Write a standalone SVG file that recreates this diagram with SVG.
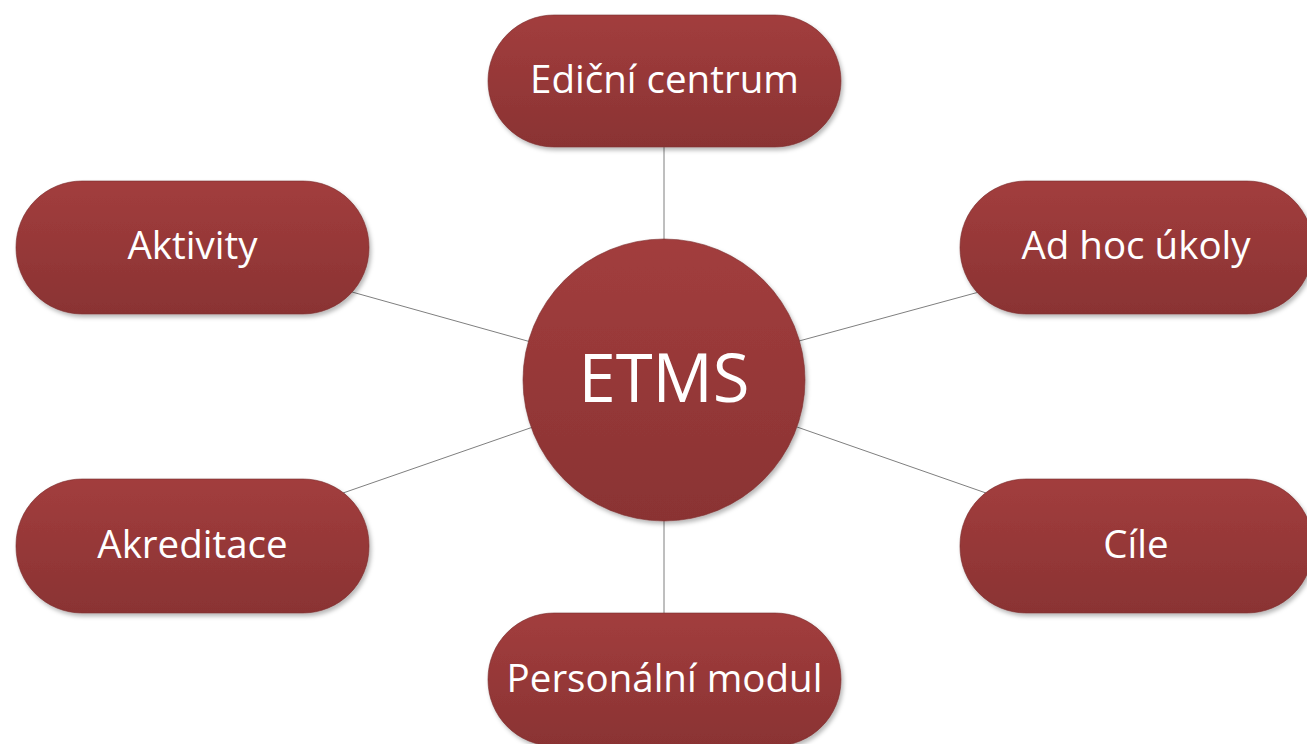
<svg xmlns="http://www.w3.org/2000/svg" width="1307" height="744" viewBox="0 0 1307 744">
<defs>
<linearGradient id="g" x1="0" y1="0" x2="0" y2="1">
<stop offset="0" stop-color="#A23D3D"/>
<stop offset="1" stop-color="#8A3333"/>
</linearGradient>
<filter id="sh" x="-10%" y="-10%" width="125%" height="130%">
<feDropShadow dx="2" dy="3" stdDeviation="2" flood-color="#000" flood-opacity="0.28"/>
</filter>
</defs>
<style>
.n{fill:url(#g);stroke:#7a2e2e;stroke-width:0.6;filter:url(#sh)}
.t{fill:#fff;font-family:"Open Sans",Lato,sans-serif;font-size:38.5px;text-anchor:middle}
.c{stroke:#7f7f7f;stroke-width:1;fill:none}
</style>
<rect width="1307" height="744" fill="#fff"/>
<g id="connectors">
<line class="c" x1="664" y1="147" x2="664" y2="247"/>
<line class="c" x1="664" y1="513" x2="664" y2="613"/>
<line class="c" x1="352" y1="292" x2="531" y2="342"/>
<line class="c" x1="799" y1="341" x2="979" y2="292"/>
<line class="c" x1="343" y1="493" x2="533" y2="427"/>
<line class="c" x1="797" y1="427" x2="986" y2="493"/>
</g>
<g id="n-edicni"><rect class="n" x="488" y="15" width="353" height="132" rx="66"/><text class="t" x="664.5" y="93">Ediční centrum</text></g>
<g id="n-aktivity"><rect class="n" x="16" y="181" width="353" height="133" rx="66"/><text class="t" x="192.5" y="259">Aktivity</text></g>
<g id="n-adhoc"><rect class="n" x="960" y="181" width="353" height="133" rx="66"/><text class="t" x="1136" y="259">Ad hoc úkoly</text></g>
<g id="n-etms"><circle class="n" cx="664" cy="380" r="141"/><text class="t" x="664" y="402" style="font-size:67px">ETMS</text></g>
<g id="n-akreditace"><rect class="n" x="16" y="479" width="353" height="134" rx="66"/><text class="t" x="192.5" y="558">Akreditace</text></g>
<g id="n-cile"><rect class="n" x="960" y="479" width="353" height="134" rx="66"/><text class="t" x="1136" y="558">Cíle</text></g>
<g id="n-personalni"><rect class="n" x="488" y="613" width="353" height="133" rx="66"/><text class="t" x="664.5" y="692">Personální modul</text></g>
</svg>
